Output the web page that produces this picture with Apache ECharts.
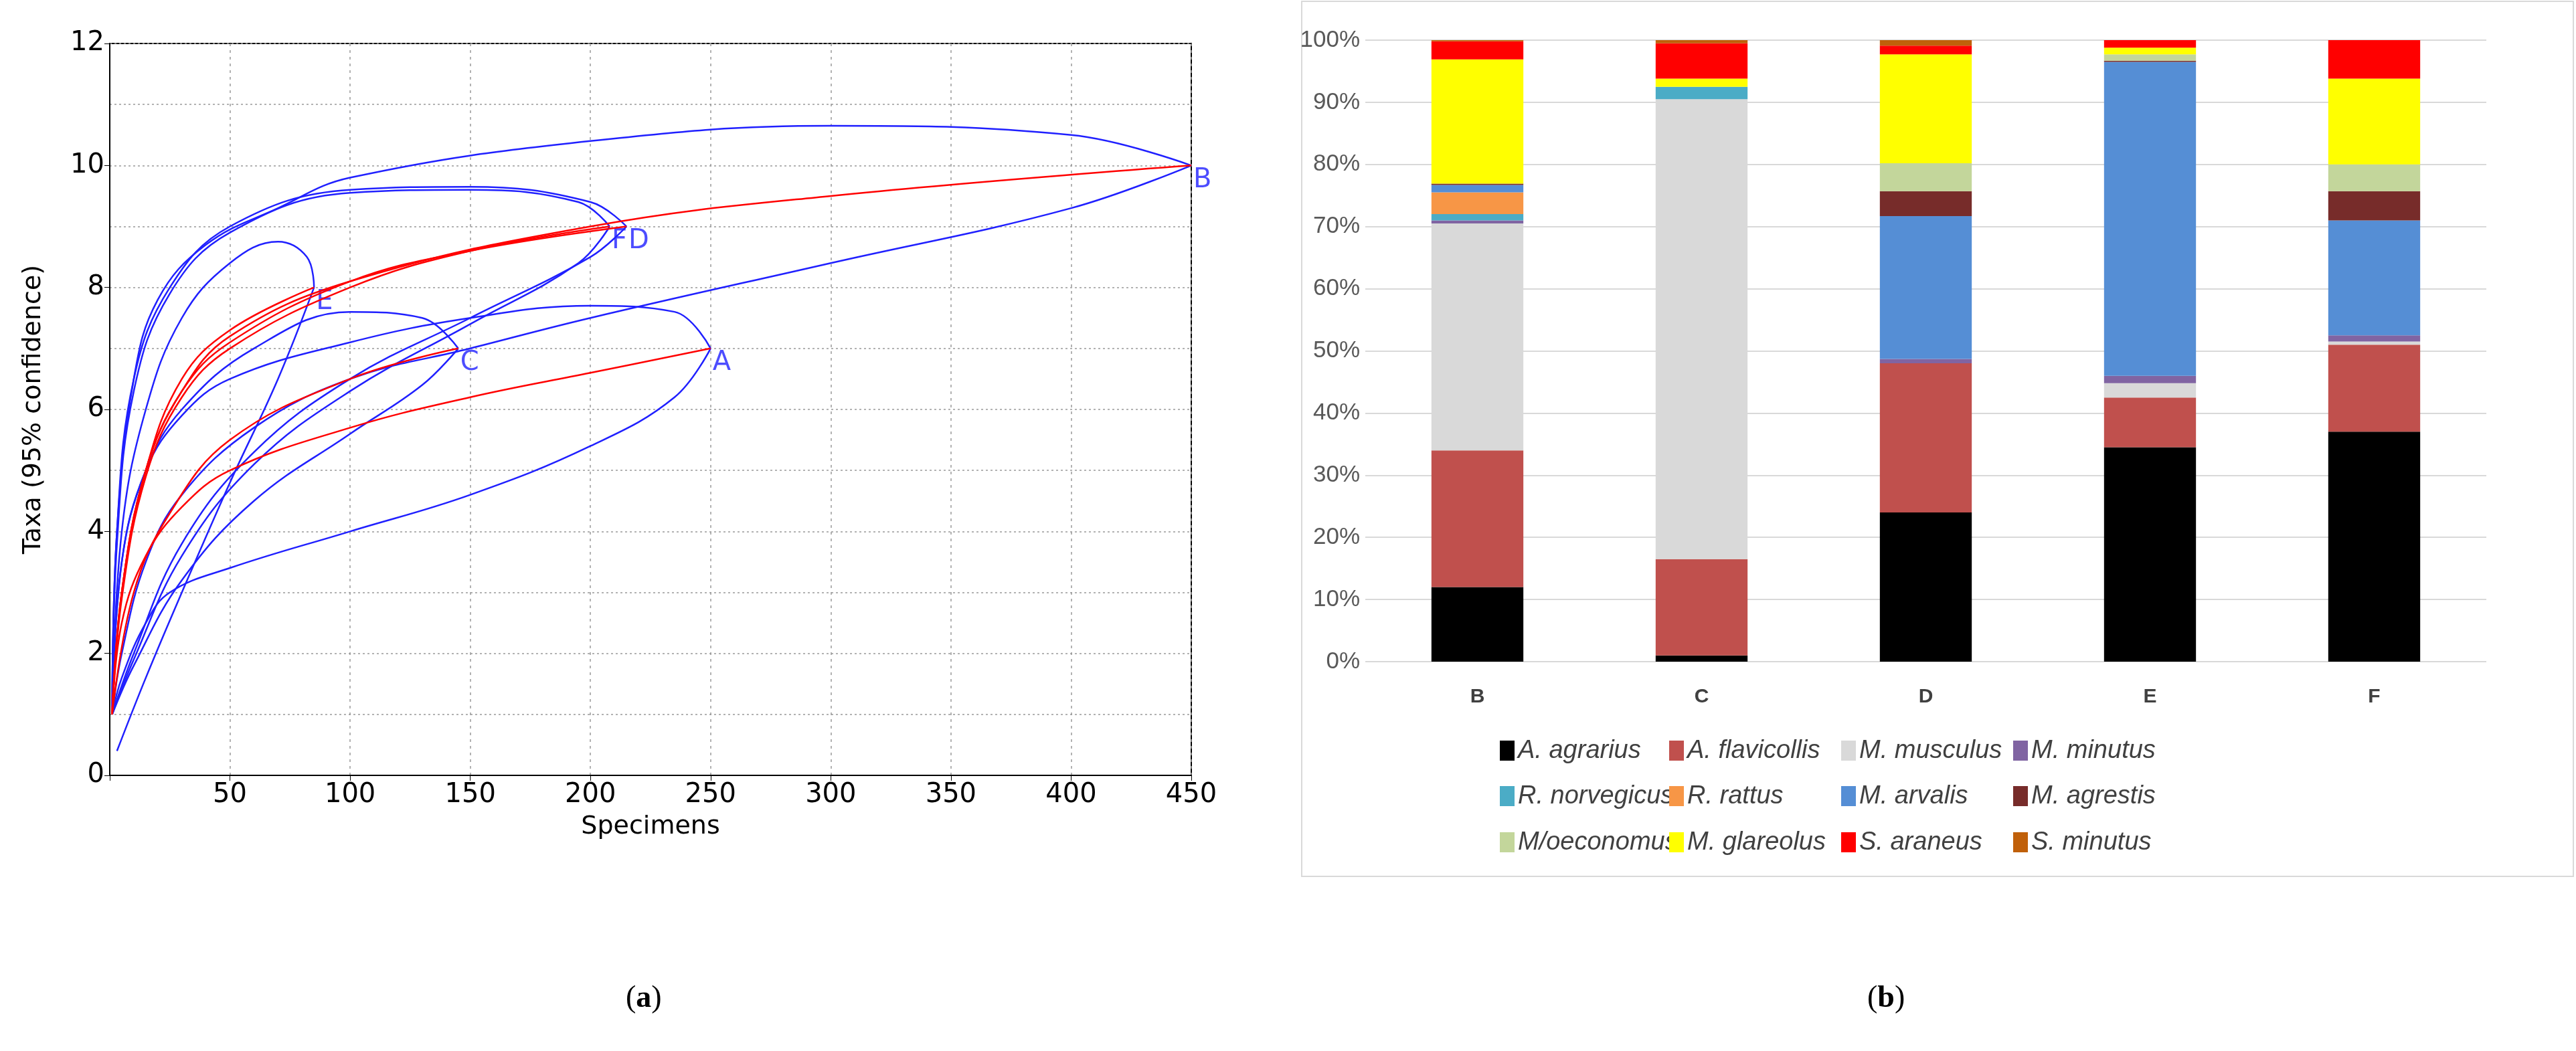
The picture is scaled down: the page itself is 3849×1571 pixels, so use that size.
<!DOCTYPE html>
<html><head><meta charset="utf-8">
<script src="https://cdn.jsdelivr.net/npm/echarts@6/dist/echarts.min.js"></script>
<style>html,body{margin:0;background:#fff}#c{width:3849px;height:1571px}</style></head>
<body><div id="c"></div><script>
// ---- Panel (a) rarefaction curves ----
const sampleNames = ['A','B','C','D','F','E'];
const meanA = [[1,1],[5,2.5],[15,3.6],[30,4.4],[50,5],[100,5.7],[150,6.2],[200,6.6],[250,7]];
const upA = [[1,1],[5,3.5],[15,5],[30,5.9],[50,6.5],[100,7.1],[150,7.5],[200,7.7],[235,7.6],[250,7]];
const loA = [[1,1],[5,1.6],[15,2.5],[25,3.0],[50,3.4],[100,4.0],[150,4.6],[200,5.4],[235,6.2],[250,7]];
const meanB = [[1,1],[5,3],[15,5],[30,6.3],[50,7.2],[100,8.1],[200,9],[300,9.5],[450,10]];
const upB = [[1,1],[3,4],[10,6.5],[20,7.8],[40,8.7],[70,9.3],[100,9.8],[200,10.4],[300,10.65],[400,10.5],[450,10]];
const loB = [[1,1],[5,2],[15,3.5],[30,4.6],[60,5.7],[100,6.5],[150,7.0],[200,7.5],[300,8.4],[400,9.3],[450,10]];
const meanC = [[1,1],[10,3],[25,4.3],[50,5.5],[100,6.5],[145,7]];
const upC = [[1,1],[5,3.5],[15,5],[30,6],[60,7],[100,7.6],[130,7.5],[145,7]];
const loC = [[1,1],[10,1.8],[30,3.2],[60,4.5],[100,5.6],[130,6.4],[145,7]];
const meanD = [[1,1],[5,3],[15,5],[30,6.3],[50,7.1],[100,8.1],[150,8.6],[215,9]];
const upD = [[1,1],[3,4],[10,6.5],[25,8],[50,9],[100,9.6],[150,9.65],[200,9.4],[215,9]];
const loD = [[1,1],[10,2],[30,3.8],[60,5.3],[100,6.5],[150,7.5],[200,8.5],[215,9]];
const meanF = [[1,1],[5,2.9],[15,4.9],[30,6.2],[50,7.0],[100,8.0],[150,8.6],[208,9]];
const upF = [[1,1],[3,3.8],[10,6.3],[25,7.9],[50,8.9],[100,9.55],[150,9.6],[195,9.4],[208,9]];
const loF = [[1,1],[10,1.9],[30,3.6],[60,5.1],[100,6.3],[150,7.4],[195,8.4],[208,9]];
const meanE = [[1,1],[5,3],[15,5],[30,6.5],[50,7.3],[85,8]];
const upE = [[1,1],[5,4],[15,6],[30,7.5],[50,8.4],[70,8.75],[82,8.5],[85,8]];
const loE = [[3,0.4],[15,1.6],[30,3],[50,4.8],[70,6.5],[85,8]];
const endX = [250,450,145,215,208,85];
const endY = [7,10,7,9,9,8];

// ---- Panel (b) stacked composition ----
const sites = ['B','C','D','E','F'];
const species = ['A. agrarius','A. flavicollis','M. musculus','M. minutus','R. norvegicus','R. rattus','M. arvalis','M. agrestis','M/oeconomus','M. glareolus','S. araneus','S. minutus'];
const agrarius   = [12,1,24,34.5,37];
const flavicollis= [22,15.5,24,8,14];
const musculus   = [36.5,74,0,2.3,0.5];
const minutus    = [0.5,0,0.7,1.2,1];
const norvegicus = [1,2,0,0,0];
const rattus     = [3.5,0,0,0,0];
const arvalis    = [1.2,0,23,50.5,18.5];
const agrestis   = [0.2,0,4,0.2,4.7];
const oeconomus  = [0,0,4.5,1,4.3];
const glareolus  = [20,1.3,17.5,1.1,13.8];
const araneus    = [2.9,5.7,1.4,1.2,6.2];
const sminutus   = [0.2,0.5,0.9,0,0];
const speciesValues = [agrarius,flavicollis,musculus,minutus,norvegicus,rattus,arvalis,agrestis,oeconomus,glareolus,araneus,sminutus];
const speciesColors = ['#000000','#C0504D','#D9D9D9','#8064A2','#4BACC6','#F79646','#558ED5','#772C2A','#C3D69B','#FFFF00','#FF0000','#C0600A'];

const chart = echarts.init(document.getElementById('c'));
const curveSeries = [];
const groups = [[meanA,upA,loA],[meanB,upB,loB],[meanC,upC,loC],[meanD,upD,loD],[meanF,upF,loF],[meanE,upE,loE]];
groups.forEach((g,i)=>{
  g.forEach((d,j)=>{
    curveSeries.push({type:'line',xAxisIndex:0,yAxisIndex:0,data:d,smooth:0.4,showSymbol:false,silent:true,
      lineStyle:{color:j===0?'#FF0000':'#2020FF',width:2.5},z:j===0?3:2});
  });
});
curveSeries.push({type:'scatter',xAxisIndex:0,yAxisIndex:0,symbolSize:0,
  data:endX.map((x,i)=>[x,endY[i],sampleNames[i]]),
  label:{show:true,formatter:p=>p.data[2],position:'right',offset:[-2,22],color:'#2020FF',fontSize:40,fontFamily:'DejaVu Sans'}});

const barSeries = species.map((s,i)=>({name:s,type:'bar',stack:'t',xAxisIndex:1,yAxisIndex:1,data:speciesValues[i],
  barWidth:'41%',itemStyle:{color:speciesColors[i]}}));

const legCols=[2236,2489,2746,3003], legRows=[1098,1166,1235];
const legends = species.map((s,i)=>({data:[s],left:legCols[i%4],top:legRows[Math.floor(i/4)],itemWidth:22,itemHeight:30,
  icon:'rect',itemGap:6,textStyle:{fontSize:38,fontStyle:'italic',color:'#404040',fontFamily:'Liberation Sans'}}));

chart.setOption({
  animation:false,
  grid:[{left:164,right:2069,top:65,height:1094,show:true,borderColor:'#000',borderWidth:2},
        {left:2040,right:134,top:60,height:929}],
  xAxis:[{type:'value',gridIndex:0,min:0,max:450,interval:50,name:'Specimens',nameLocation:'middle',nameGap:58,
     nameTextStyle:{fontSize:38,fontFamily:'DejaVu Sans',color:'#000'},
     axisLine:{lineStyle:{color:'#000',width:2}},axisTick:{show:true,length:8,lineStyle:{color:'#000'}},
     axisLabel:{fontSize:40,fontFamily:'DejaVu Sans',color:'#000',margin:10,formatter:v=>v===0?'':String(v)},
     splitLine:{show:true,interval:1,lineStyle:{color:'#999',type:[4,6],width:1.5}}},
    {type:'category',gridIndex:1,data:sites,axisLine:{show:false},axisTick:{show:false},
     axisLabel:{fontSize:30,fontWeight:'bold',color:'#404040',margin:38,fontFamily:'Liberation Sans'}}],
  yAxis:[{type:'value',gridIndex:0,min:0,max:12,interval:2,name:'Taxa (95% confidence)',nameLocation:'middle',nameGap:95,
     nameTextStyle:{fontSize:38,fontFamily:'DejaVu Sans',color:'#000'},
     axisLine:{show:true,lineStyle:{color:'#000',width:2}},axisTick:{show:true,length:8,lineStyle:{color:'#000'}},
     axisLabel:{fontSize:40,fontFamily:'DejaVu Sans',color:'#000'},
     splitLine:{show:true,lineStyle:{color:'#999',type:[3,4],width:1.5}},
     minorTick:{show:false,splitNumber:2},minorSplitLine:{show:true,lineStyle:{color:'#999',type:[3,4],width:1.5}}},
    {type:'value',gridIndex:1,min:0,max:100,interval:10,
     axisLabel:{formatter:'{value}%',fontSize:35,color:'#595959',fontFamily:'Liberation Sans'},
     splitLine:{lineStyle:{color:'#D9D9D9',width:2}}}],
  legend:legends,
  graphic:[
    {type:'rect',shape:{x:1945,y:2,width:1900,height:1308},style:{fill:'none',stroke:'#D9D9D9',lineWidth:2},z:-1},
    {type:'text',left:935,top:1470,style:{text:'({a|a})',rich:{a:{fontWeight:'bold',fontSize:46,fontFamily:'Liberation Serif'}},fontSize:46,fontFamily:'Liberation Serif',fill:'#000'}},
    {type:'text',left:2790,top:1470,style:{text:'({a|b})',rich:{a:{fontWeight:'bold',fontSize:46,fontFamily:'Liberation Serif'}},fontSize:46,fontFamily:'Liberation Serif',fill:'#000'}}
  ],
  series:curveSeries.concat(barSeries)
});
</script></body></html>
